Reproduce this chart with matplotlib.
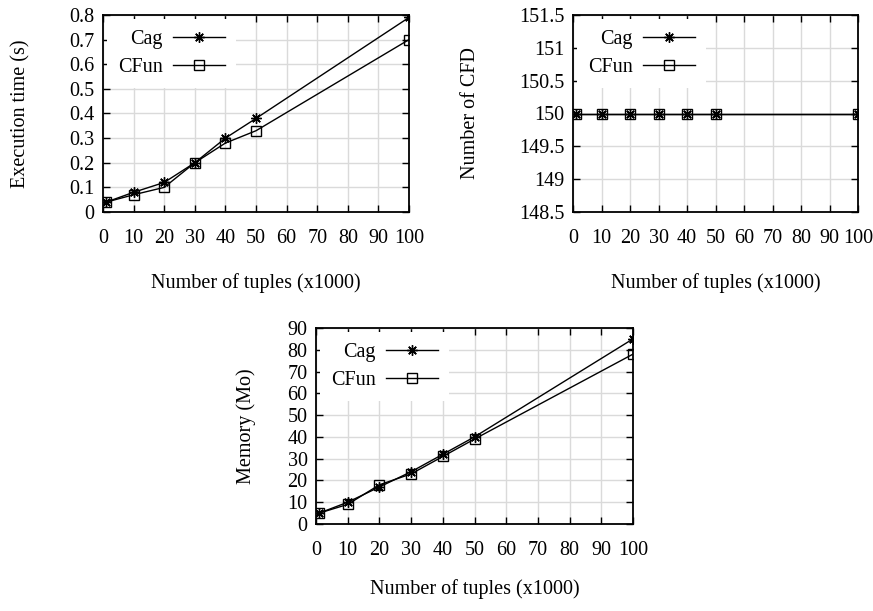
import numpy as np
import matplotlib
matplotlib.use("Agg")
import matplotlib.pyplot as plt

# data
tuples = [1, 10, 20, 30, 40, 50, 100]
time_cag = [0.04, 0.08, 0.12, 0.20, 0.30, 0.38, 0.79]
time_cfun = [0.04, 0.07, 0.10, 0.20, 0.28, 0.33, 0.70]
cfd_cag = [150, 150, 150, 150, 150, 150, 150]
cfd_cfun = [150, 150, 150, 150, 150, 150, 150]
mem_cag = [5, 10, 17, 24, 32, 40, 85]
mem_cfun = [5, 9, 18, 23, 31, 39, 78]

x_ticks = list(range(0, 101, 10))

plt.rcParams['font.family'] = ['Liberation Serif', 'DejaVu Serif']
plt.rcParams['font.size'] = 14.5

fig = plt.figure(figsize=(8.73, 6.11), dpi=100)

W, H = 873.0, 611.0
def add_axes(left, top, right, bottom):
    return fig.add_axes([left / W, 1 - bottom / H, (right - left) / W, (bottom - top) / H])

ax1 = add_axes(103, 15, 409, 212)
ax2 = add_axes(573, 15, 858, 212)
ax3 = add_axes(316, 328, 633, 524)

star = (8, 2, 0)

def style_panel(ax, ylabel, yticks, ylim, ylab_x, xlab_y):
    ax.set_xlim(0, 100)
    ax.set_ylim(*ylim)
    ax.set_xticks(x_ticks)
    ax.set_yticks(yticks)
    ax.set_yticklabels(['%g' % v for v in yticks])
    ax.grid(True, color='#dadada', linewidth=1.0, zorder=0)
    ax.set_axisbelow(True)
    ax.tick_params(direction='in', length=5, width=1, top=True, right=True,
                   colors='black')
    ax.tick_params(axis='x', pad=12)
    ax.tick_params(axis='y', pad=6)
    for sp in ax.spines.values():
        sp.set_linewidth(1.3)
    ax.set_xlabel('Number of tuples (x1000)')
    ax.set_ylabel(ylabel)
    ax.xaxis.set_label_coords(0.5, xlab_y)
    ax.xaxis.label.set_va('center')
    ax.yaxis.set_label_coords(ylab_x, 0.5)
    ax.yaxis.label.set_va('center')

def draw(ax, cag, cfun):
    ax.plot(tuples, cag, color='black', linewidth=1, marker=star,
            markersize=7.5, markeredgewidth=1, label='Cag', zorder=3)
    ax.plot(tuples, cfun, color='black', linewidth=1, marker='s',
            markersize=6.5, markerfacecolor='none', markeredgewidth=1,
            label='CFun', zorder=3)
    leg = ax.legend(loc='upper left', bbox_to_anchor=(0.0, 1.0), markerfirst=False,
                    frameon=True, framealpha=1, facecolor='white', edgecolor='none',
                    fancybox=False, handlelength=2.6, handletextpad=0.5,
                    labelspacing=0.45, borderpad=0.55, borderaxespad=0.2)
    for t in leg.get_texts():
        t.set_ha('right')

draw(ax1, time_cag, time_cfun)
style_panel(ax1, 'Execution time (s)', np.round(np.arange(0, 0.81, 0.1), 1),
            (0, 0.8), -0.27, -0.36)

draw(ax2, cfd_cag, cfd_cfun)
style_panel(ax2, 'Number of CFD', np.arange(148.5, 151.6, 0.5),
            (148.5, 151.5), -0.36, -0.36)

draw(ax3, mem_cag, mem_cfun)
style_panel(ax3, 'Memory (Mo)', list(range(0, 91, 10)),
            (0, 90), -0.22, -0.33)

fig.savefig('out.png', dpi=100)
